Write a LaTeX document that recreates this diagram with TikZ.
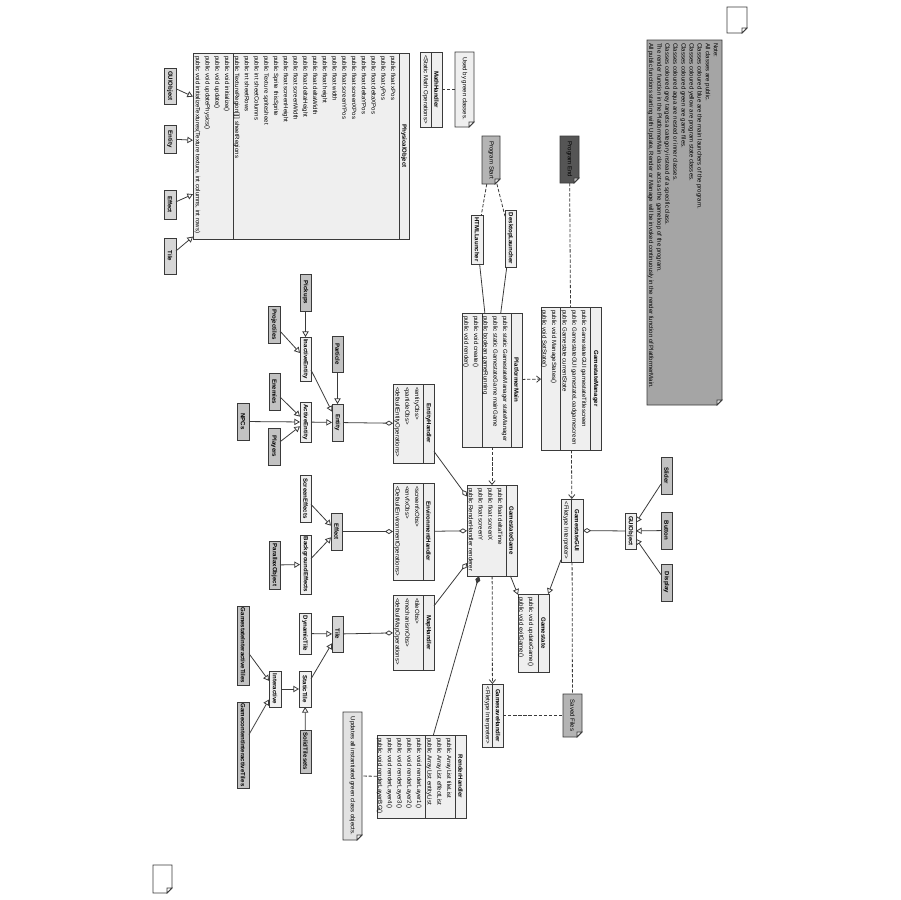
\documentclass[tikz,border=0pt]{standalone}
\usepackage{fontspec}
\setmainfont{Liberation Sans}
\usetikzlibrary{arrows.meta,calc}
\definecolor{lc}{HTML}{3A3A3A}
\definecolor{cl}{HTML}{EFEFEF}
\definecolor{cm}{HTML}{D6D6D6}
\definecolor{cd}{HTML}{C2C2C2}
\definecolor{ng}{HTML}{A5A5A5}
\definecolor{ns}{HTML}{B4B4B4}
\definecolor{ne}{HTML}{555555}
\definecolor{nu}{HTML}{E2E2E2}
\newcommand\fs{\fontsize{3.45}{5.55}\selectfont}
\newcommand\rl[1]{\rotatebox{-90}{\begin{tabular}{@{}l@{}}#1\end{tabular}}}
\newcommand\rln[1]{\rotatebox{-90}{\fontsize{3.45}{4.6}\selectfont\begin{tabular}{@{}l@{}}#1\end{tabular}}}
\newcommand\rc[1]{\rotatebox{-90}{#1}}
\newcommand\bx[7]{\node[cbox, fill=#6, minimum width={(#4-#2)*0.02cm}, minimum height={(#5-#3)*0.02cm}] (#1) at ({(#2+#4)/2},{(#3+#5)/2}) {#7};}
\newcommand\nt[7]{%
  \draw[lc, line width=0.45pt, fill=#6] (#2,#3) -- (#4,#3) -- ({#4},{#5-5}) -- ({#4-5},{#5}) -- (#2,#5) -- cycle;
  \draw[lc, line width=0.45pt, fill=white!60!#6] ({#4},{#5-5}) -- ({#4-5},{#5-5}) -- ({#4-5},{#5}) -- cycle;
  \node[inner sep=0, outer sep=0, minimum width={(#4-#2)*0.02cm}, minimum height={(#5-#3)*0.02cm}] (#1) at ({(#2+#4)/2},{(#3+#5)/2}) {#7};}
\tikzset{
  cbox/.style={draw=lc, line width=0.45pt, inner sep=0, outer sep=0},
  tx/.style={inner sep=0, outer sep=0},
  ln/.style={draw=lc, line width=0.45pt},
  dsh/.style={ln, dash pattern=on 1.9pt off 1pt},
  dep/.style={dsh, -{Straight Barb[length=2.2pt,width=3.6pt]}},
  gen/.style={ln, -{Triangle[open,fill=white,length=3.2pt,width=3.6pt]}},
  agg/.style={ln, {Diamond[open,fill=white,length=4.6pt,width=2.9pt]}-},
  comp/.style={ln, {Diamond[length=4.6pt,width=2.9pt]}-},
}
\begin{document}
\begin{tikzpicture}[x=0.02cm, y=-0.02cm, font=\fs]
\useasboundingbox[fill=white] (0,0) rectangle (900,900);

% ---------- notes ----------
\nt{bign}{647}{40}{722}{405}{ng}{}
\node[tx, anchor=north east] at (719.5,43) {\rln{Note:\\All classes are public.\\Classes coloured blue are the main launchers of the program.\\Classes coloured yellow are program state classes.\\Classes coloured green are game files.\\Classes coloured aqua are nested or inner classes.\\Classes coloured grey targets a category instead of a specific class.\\The render function in the PlatformerMain class acts as the gameloop of the program.\\All public functions starting with Update, Render or Manage will be invoked continuously in the render function of PlatformerMain.}};
\nt{blank1}{727}{7}{747}{33}{white}{}
\nt{blank2}{153}{865}{172}{893}{white}{}
\nt{ps}{482}{136}{500}{184}{ns}{\rc{Program Start}}
\nt{pe}{560}{136}{579}{183}{ne}{\rc{Program End}}
\nt{sf}{563}{694}{582}{737}{ns}{\rc{Saved Files}}
\nt{upd}{343}{712}{362}{840}{nu}{\rc{Updates all instantiated green class objects.}}
\nt{used}{455}{52}{474}{127}{cl}{}
\node[tx, anchor=north] at (464.5,57) {\rc{Used by green classes.}};

% ---------- MathHandler ----------
\bx{math}{420}{52}{442}{127}{cl}{}
\draw[ln] (431,52) -- (431,127);
\node[tx] at (436.5,89.5) {\rc{\bfseries MathHandler}};
\node[tx] at (425.5,89.5) {\rc{<Static Math Operations>}};

% ---------- PhysicalObject ----------
\bx{po}{193}{53}{409}{239}{cl}{}
\draw[ln] (399,53) -- (399,239);
\draw[ln] (233,53) -- (233,239);
\node[tx] at (404,146) {\rc{\bfseries PhysicalObject}};
\node[tx, anchor=north east] at (398,56) {\rl{public float xPos\\public float yPos\\public float deltaXPos\\public float deltaYPos\\public float screenXPos\\public float screenYPos\\public float width\\public float height\\public float deltaWidth\\public float deltaHeight\\public float screenWidth\\public float screenHeight\\public Sprite thisSprite\\public Texture spritesheet\\public int sheetColumns\\public int sheetRows\\public TextureRegion[][] sheetRegions}};
\node[tx, anchor=north east] at (232,56) {\rl{public void initialize()\\public void update()\\public void updatePhysics()\\public void initializeTextures(Texture texture, int columns, int rows)}};

\bx{guil}{164}{68}{176}{104}{cm}{\rc{\bfseries GUIObject}}
\bx{entl}{164}{125}{176}{153}{cm}{\rc{\bfseries Entity}}
\bx{effl}{164}{190}{176}{219}{cm}{\rc{\bfseries Effect}}
\bx{tilel}{164}{238}{176}{274}{cm}{\rc{\bfseries Tile}}

% ---------- launchers ----------
\bx{html}{471}{215}{483}{264}{cl}{\rc{\bfseries HTMLLauncher}}
\bx{dl}{505}{210}{516}{267}{cl}{\rc{\bfseries DesktopLauncher}}

% ---------- PlatformerMain ----------
\bx{pm}{462}{313}{522}{447}{cl}{}
\draw[ln] (511,313) -- (511,447);
\draw[ln] (482,313) -- (482,447);
\node[tx] at (516.5,380) {\rc{\bfseries PlatformerMain}};
\node[tx, anchor=north east] at (510,316) {\rl{public static GamestateManager stateManager\\public static GamestateGame mainGame\\public boolean gameRunning}};
\node[tx, anchor=north east] at (481,316) {\rl{public void create()\\public void render()}};

% ---------- GamestateManager ----------
\bx{gsm}{541}{307}{601}{450}{cl}{}
\draw[ln] (590,307) -- (590,450);
\draw[ln] (560,307) -- (560,450);
\node[tx] at (595.5,378.5) {\rc{\bfseries GamestateManager}};
\node[tx, anchor=north east] at (589,310) {\rl{public GamestateGUI gamestateTitlescreen\\public GamestateGUI gamestateLoadgamescreen\\public Gamestate currentState}};
\node[tx, anchor=north east] at (559,310) {\rl{public void ManageStates()\\public void SetState()}};

% ---------- GamestateGame ----------
\bx{gsg}{467}{485}{517}{576}{cl}{}
\draw[ln] (506,485) -- (506,576);
\node[tx] at (511.5,530.5) {\rc{\bfseries GamestateGame}};
\node[tx, anchor=north east] at (505,488) {\rl{public float deltaTime\\public float screenX\\public float screenY\\public RenderHandler renderer}};

% ---------- GamestateGUI ----------
\bx{gui}{561}{499}{583}{562}{cl}{}
\draw[ln] (571.5,499) -- (571.5,562);
\node[tx] at (577,530.5) {\rc{\bfseries GamestateGUI}};
\node[tx] at (566,530.5) {\rc{<Filetype Interpreter>}};

\bx{guio}{625}{513}{636}{549}{cl}{\rc{\bfseries GUIObject}}
\bx{slider}{661}{457}{672}{494}{cd}{\rc{\bfseries Slider}}
\bx{button}{661}{512}{672}{549}{cd}{\rc{\bfseries Button}}
\bx{display}{661}{564}{672}{601}{cd}{\rc{\bfseries Display}}

% ---------- Gamestate ----------
\bx{gs}{518}{594}{549}{672}{cl}{}
\draw[ln] (538,594) -- (538,672);
\node[tx] at (543.5,633) {\rc{\bfseries Gamestate}};
\node[tx, anchor=north east] at (536,597) {\rl{public void updateGame()\\public void exitGame()}};

% ---------- GamesaveHandler ----------
\bx{gsh}{482}{684}{503}{747}{cl}{}
\draw[ln] (492.5,684) -- (492.5,747);
\node[tx] at (498,715.5) {\rc{\bfseries GamesaveHandler}};
\node[tx] at (487.5,715.5) {\rc{<Filetype Interpreter>}};

% ---------- RenderHandler ----------
\bx{rh}{377}{735}{466}{818}{cl}{}
\draw[ln] (455,735) -- (455,818);
\draw[ln] (425,735) -- (425,818);
\node[tx] at (460.5,776.5) {\rc{\bfseries RenderHandler}};
\node[tx, anchor=north east] at (454,738) {\rl{public ArrayList tileList\\public ArrayList effectList\\public ArrayList entityList}};
\node[tx, anchor=north east] at (424,738) {\rl{public void renderLayer1()\\public void renderLayer2()\\public void renderLayer3()\\public void renderLayer4()\\public void renderLayerBG()}};

% ---------- handlers ----------
\bx{eh}{393}{384}{434}{463}{cl}{}
\draw[ln] (423,384) -- (423,463);
\node[tx] at (428.5,423.5) {\rc{\bfseries EntityHandler}};
\node[tx, anchor=north east] at (422,387) {\rl{<entityObs>\\<particleObs>\\<defaultEntityOperations>}};

\bx{envh}{393}{483}{434}{580}{cl}{}
\draw[ln] (423,483) -- (423,580);
\node[tx] at (428.5,531.5) {\rc{\bfseries EnvironmentHandler}};
\node[tx, anchor=north east] at (422,486) {\rl{<screenfxObs>\\<envfxObs>\\<DefaultEnvironmentOperations>}};

\bx{maph}{393}{595}{434}{670}{cl}{}
\draw[ln] (423,595) -- (423,670);
\node[tx] at (428.5,632.5) {\rc{\bfseries MapHandler}};
\node[tx, anchor=north east] at (422,598) {\rl{<tileObs>\\<mechanismObs>\\<defaultMapOperations>}};

% ---------- entity tree ----------
\bx{ent}{332}{404}{343}{441}{cm}{\rc{\bfseries Entity}}
\bx{particle}{332}{336}{343}{372}{cd}{\rc{\bfseries Particle}}
\bx{ie}{300}{337}{311}{381}{cl}{\rc{\bfseries InactiveEntity}}
\bx{ae}{300}{402}{311}{442}{cl}{\rc{\bfseries ActiveEntity}}
\bx{pickups}{300}{274}{311}{311}{cd}{\rc{\bfseries Pickups}}
\bx{proj}{268}{306}{280}{343}{cd}{\rc{\bfseries Projectiles}}
\bx{enemies}{269}{373}{280}{410}{cd}{\rc{\bfseries Enemies}}
\bx{npcs}{237}{403}{249}{440}{cd}{\rc{\bfseries NPCs}}
\bx{players}{268}{428}{280}{465}{cd}{\rc{\bfseries Players}}

% ---------- effect tree ----------
\bx{eff}{331}{513}{342}{550}{cm}{\rc{\bfseries Effect}}
\bx{scr}{300}{475}{311}{522}{cl}{\rc{\bfseries ScreenEffects}}
\bx{bg}{300}{535}{311}{594}{cl}{\rc{\bfseries BackgroundEffects}}
\bx{par}{269}{541}{280}{589}{cd}{\rc{\bfseries ParallaxObject}}

% ---------- tile tree ----------
\bx{tile}{332}{616}{343}{652}{cm}{\rc{\bfseries Tile}}
\bx{dyn}{299}{613}{311}{654}{cl}{\rc{\bfseries DynamicTile}}
\bx{stat}{299}{671}{311}{707}{cl}{\rc{\bfseries StaticTile}}
\bx{solid}{300}{730}{311}{773}{cd}{\rc{\bfseries SolidTilesets}}
\bx{inter}{269}{671}{281}{707}{cl}{\rc{\bfseries Interactive}}
\bx{gsit}{237}{606}{249}{685}{cd}{\rc{\bfseries GamestateInteractiveTiles}}
\bx{gcit}{237}{702}{249}{788}{cd}{\rc{\bfseries GamecontentInteractiveTiles}}

% ---------- connectors ----------
\draw[dsh] (math) -- (used);
\draw[dsh] (ps) -- (html);
\draw[dsh] (ps) -- (dl);
\draw[ln] (html) -- (pm);
\draw[ln] (dl) -- (pm);
\draw[dep] (pm) -- (gsm);
\draw[dep] (pm) -- (gsg);
\draw[dsh] (pe) -- (gsm);
\draw[dep] (gsm) -- (gui);
\draw[dsh] (gui) -- (sf);
\draw[dep] (gsg) -- (gsh);
\draw[dsh] (gsh) -- (sf);
\draw[comp] (gsg) -- (rh);
\draw[dsh] (rh) -- (upd);
\draw[agg] (gsg) -- (eh);
\draw[agg] (gsg) -- (envh);
\draw[agg] (gsg) -- (maph);
\draw[gen] (gui) -- (gs);
\draw[gen] (gsg) -- (gs);
\draw[agg] (gui) -- (guio);
\draw[gen] (slider) -- (guio);
\draw[gen] (button) -- (guio);
\draw[gen] (display) -- (guio);
\draw[gen] (guil) -- (po);
\draw[gen] (entl) -- (po);
\draw[gen] (effl) -- (po);
\draw[gen] (tilel) -- (po);
\draw[agg] (eh) -- (ent);
\draw[gen] (particle) -- (ent);
\draw[gen] (ie) -- (ent);
\draw[gen] (ae) -- (ent);
\draw[gen] (pickups) -- (ie);
\draw[gen] (proj) -- (ie);
\draw[gen] (enemies) -- (ae);
\draw[gen] (npcs) -- (ae);
\draw[gen] (players) -- (ae);
\draw[agg] (envh) -- (eff);
\draw[gen] (scr) -- (eff);
\draw[gen] (bg) -- (eff);
\draw[gen] (par) -- (bg);
\draw[agg] (maph) -- (tile);
\draw[gen] (dyn) -- (tile);
\draw[gen] (stat) -- (tile);
\draw[gen] (solid) -- (stat);
\draw[gen] (inter) -- (stat);
\draw[gen] (gsit) -- (inter);
\draw[gen] (gcit) -- (inter);
\end{tikzpicture}
\end{document}
